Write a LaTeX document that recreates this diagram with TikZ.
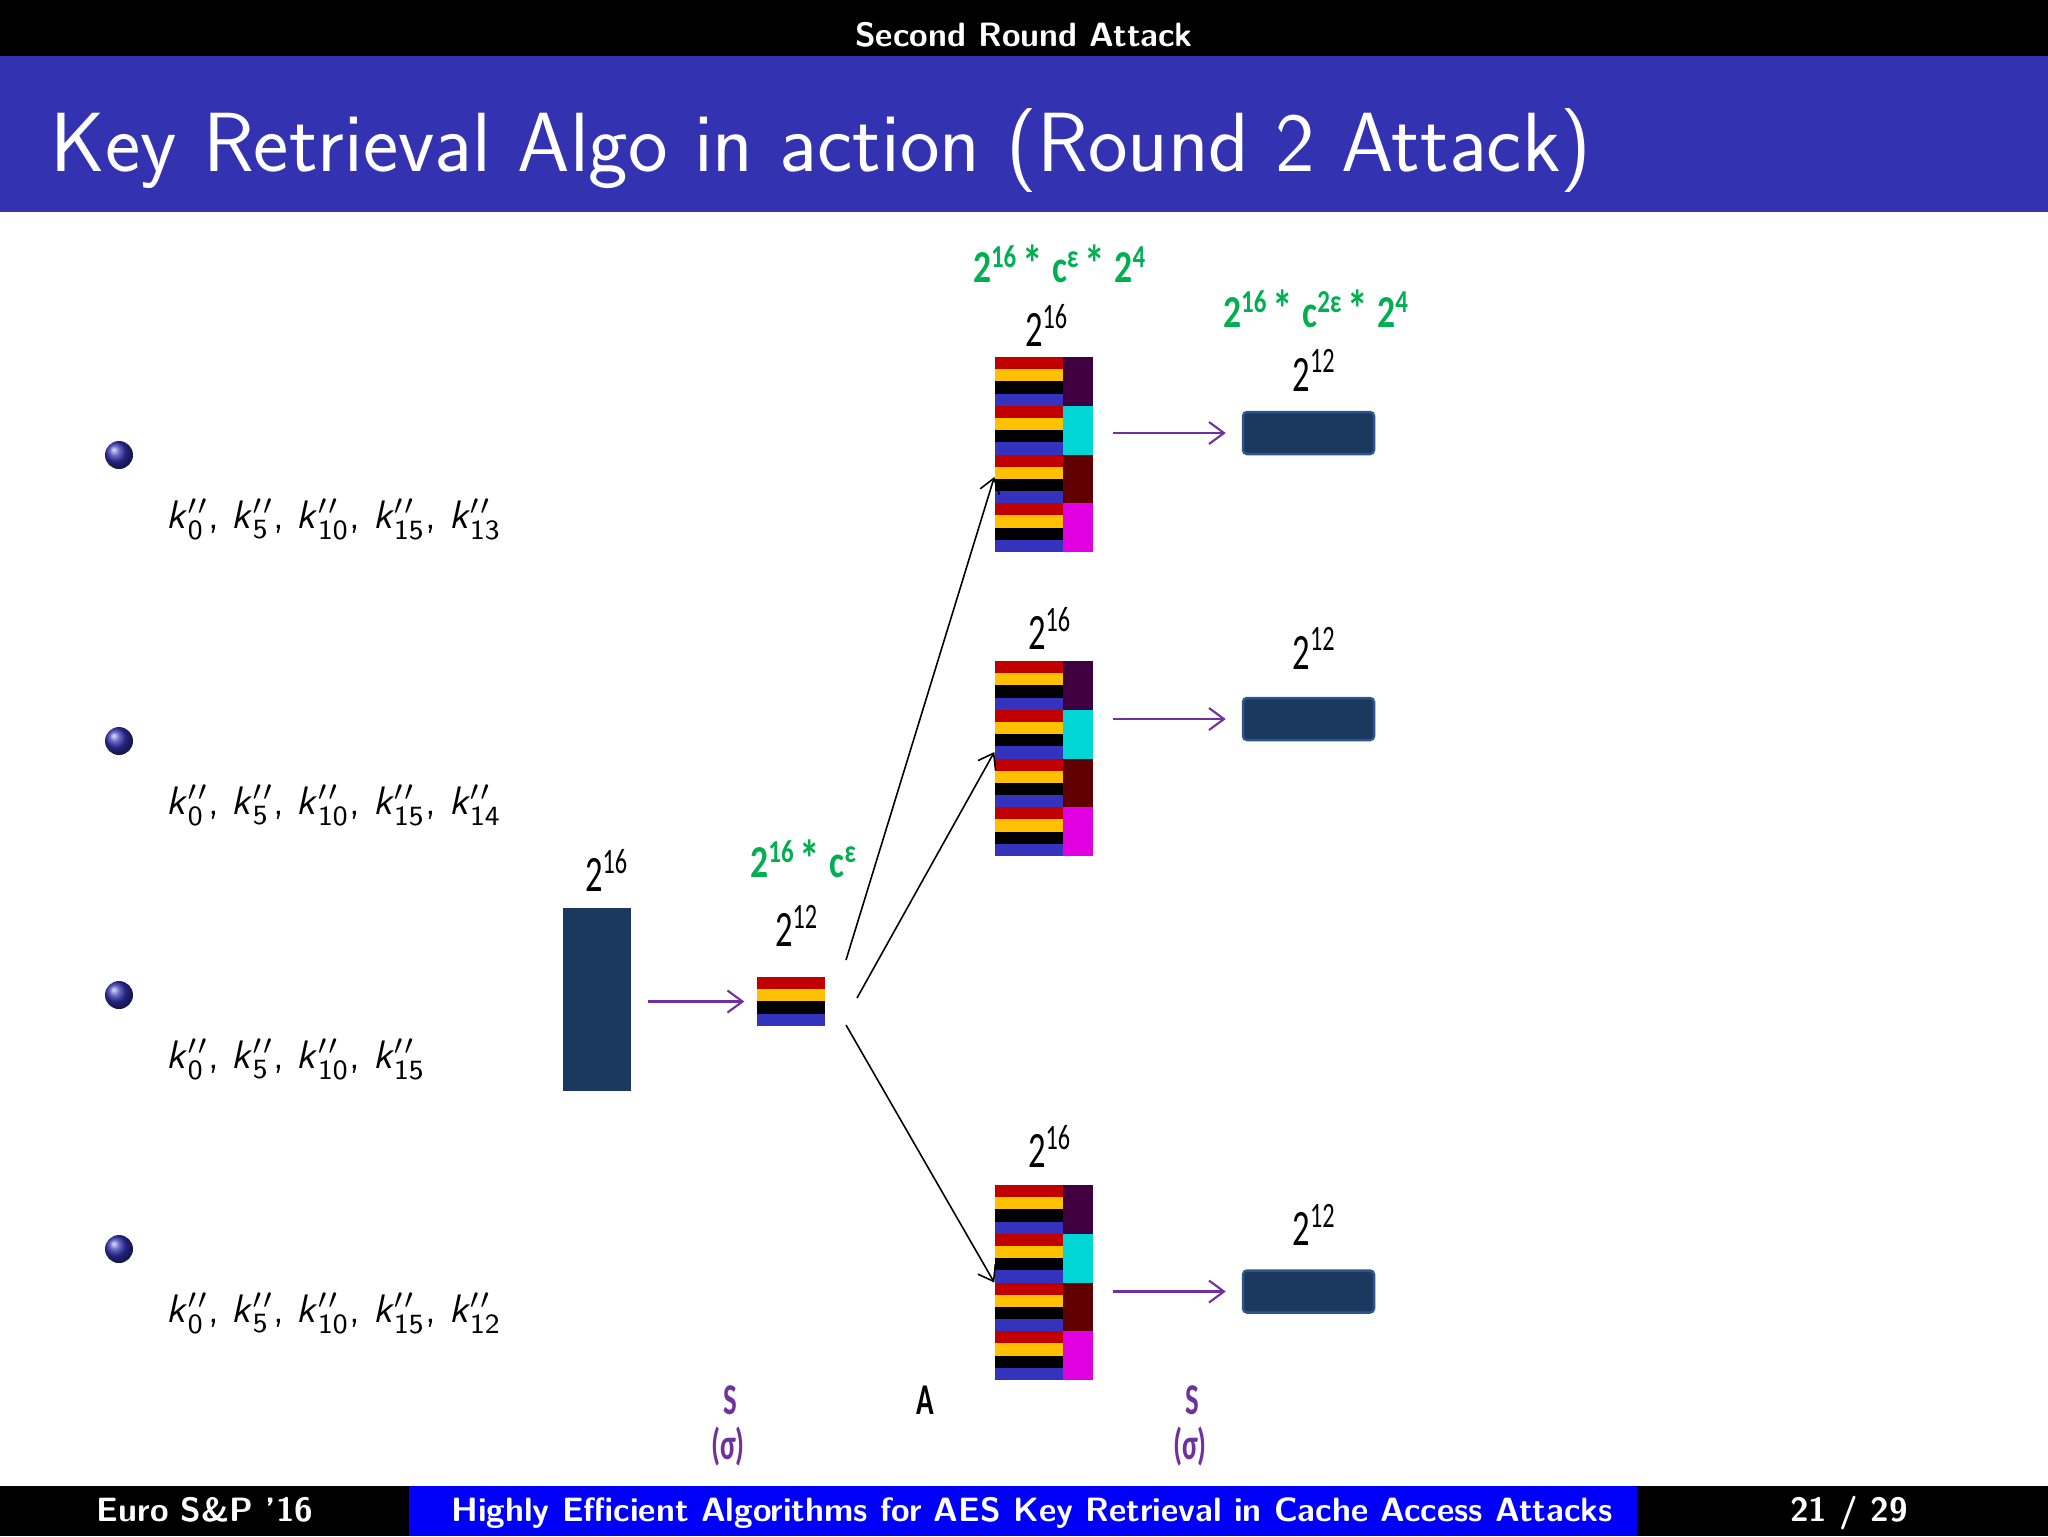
\documentclass[tikz,border=0pt]{standalone}
\usepackage{fontspec}
\usepackage{amsmath}
\newfontfamily\cali[FakeStretch=0.68]{Carlito}
\newfontfamily\calig[FakeStretch=0.78]{Carlito}
\newfontfamily\calio[FakeStretch=0.66]{Carlito}
\usetikzlibrary{arrows.meta,positioning,calc}

\definecolor{titleblue}{RGB}{51,51,178}
\definecolor{footblue}{RGB}{0,0,250}
\definecolor{navy}{RGB}{27,56,94}
\definecolor{navyedge}{RGB}{46,84,140}
\definecolor{sred}{RGB}{192,0,0}
\definecolor{sgold}{RGB}{255,192,0}
\definecolor{sblue}{RGB}{51,51,190}
\definecolor{bplum}{RGB}{64,0,64}
\definecolor{bcyan}{RGB}{0,214,214}
\definecolor{bmaroon}{RGB}{96,0,0}
\definecolor{bmagenta}{RGB}{224,0,224}
\definecolor{costgreen}{RGB}{0,176,80}
\definecolor{mapviolet}{RGB}{112,48,160}

\newcommand\kk[1]{\textit{k}$_{\textsf{#1}}^{\prime\kern0.06em\prime}$}
\newcommand\tms{\kern0.1em{\fontsize{15}{15}\selectfont*}\kern0.2em}

% stripes of a candidate list: #1+1 groups of four
\newcommand\stripecode[1]{%
  \foreach \j in {0,...,#1} {
    \foreach \k/\c in {0/sred,1/sgold,2/black,3/sblue} {
      \pgfmathsetmacro\yy{(4*\j+\k)*1.21875}
      \fill[\c] ([yshift=-\yy mm]path picture bounding box.north west) rectangle ++(6.8mm,-1.22mm);
    }
  }}
\newcommand\blockcode{%
  \foreach \j/\c in {0/bplum,1/bcyan,2/bmaroon,3/bmagenta} {
    \fill[\c] ([xshift=6.8mm,yshift=-\j*4.875mm]path picture bounding box.north west) rectangle ++(3mm,-4.875mm);
  }}

\begin{document}
\begin{tikzpicture}[x=0.1mm, y=-0.1mm,
  bar/.style={fill=navy, inner sep=0pt, minimum width=6.8mm, minimum height=18.3mm},
  slab/.style={fill=navy, draw=navyedge, line width=0.25mm, rounded corners=0.4mm, inner sep=0pt, minimum width=13.1mm, minimum height=4.2mm},
  flag/.style={inner sep=0pt, minimum width=6.8mm, minimum height=4.9mm, path picture={\stripecode{0}}},
  stack/.style={inner sep=0pt, minimum width=9.8mm, minimum height=19.5mm, path picture={\stripecode{3}\blockcode}},
  lbl/.style={inner sep=0pt, font=\cali\fontsize{14.5}{17}\selectfont},
  cost/.style={inner sep=0pt, text=costgreen, font=\calig\bfseries\fontsize{13}{15}\selectfont},
  op/.style={inner sep=0pt, font=\calio\bfseries\fontsize{12.5}{15}\selectfont},
  keys/.style={anchor=base west, inner sep=0pt, font=\sffamily\fontsize{11.3}{14}\selectfont},
  ballet/.style={circle, inner sep=0pt, minimum size=2.8mm, shade, ball color=titleblue},
  fork/.style={-{Straight Barb[length=1.4mm,width=2mm]}, line width=0.45pt},
  map/.style={-{Straight Barb[length=1.5mm,width=2.2mm]}, mapviolet, line width=0.6pt}
]
\useasboundingbox (0,0) rectangle (2048,1536);

% slide frame
\fill[black] (0,0) rectangle (2048,56);
\fill[titleblue] (0,56) rectangle (2048,212);
\fill[black] (0,1486) rectangle (409,1536);
\fill[footblue] (409,1486) rectangle (1637,1536);
\fill[black] (1637,1486) rectangle (2048,1536);

\node[anchor=base, inner sep=0pt, text=white, font=\sffamily\bfseries\fontsize{9.6}{12}\selectfont] (head) at (1024,46) {Second Round Attack};
\node[anchor=base west, inner sep=0pt, text=white, font=\sffamily\fontsize{23.9}{28}\selectfont] (title) at (50,171) {Key Retrieval Algo in action (Round 2 Attack)};

\node[anchor=base, inner sep=0pt, text=white, font=\sffamily\bfseries\fontsize{9.6}{12}\selectfont] (conf) at (205,1521) {Euro S\&P '16};
\node[anchor=base, inner sep=0pt, text=white, font=\sffamily\bfseries\fontsize{9.6}{12}\selectfont] (paper) at (1032,1521) {Highly Efficient Algorithms for AES Key Retrieval in Cache Access Attacks};
\node[anchor=base, inner sep=0pt, text=white, font=\sffamily\bfseries\fontsize{9.6}{12}\selectfont] (page) at (1849,1521) {21 / 29};

% key byte sets
\node[ballet] (b1) at (119,455) {};
\node[ballet] (b2) at (119,741) {};
\node[ballet] (b3) at (119,995) {};
\node[ballet] (b4) at (119,1249) {};
\node[keys] (k1) at (166,528) {\kk{0}, \kk{5}, \kk{10}, \kk{15}, \kk{13}};
\node[keys] (k2) at (166,814) {\kk{0}, \kk{5}, \kk{10}, \kk{15}, \kk{14}};
\node[keys] (k3) at (166,1068) {\kk{0}, \kk{5}, \kk{10}, \kk{15}};
\node[keys] (k4) at (166,1322) {\kk{0}, \kk{5}, \kk{10}, \kk{15}, \kk{12}};

% candidate lists
\node[bar] (big) at (597,999.5) {};
\node[flag] (mid) at (791,1001.5) {};
\node[stack] (col1) at (1044,454.5) {};
\node[stack] (col2) at (1044,758.5) {};
\node[stack] (col3) at (1044,1282.5) {};
\node[slab] (r1) at (1308.5,433) {};
\node[slab] (r2) at (1308.5,719) {};
\node[slab] (r3) at (1308.5,1291.5) {};

% sizes
\node[lbl, above=1.5mm of big, xshift=1mm] (nbig) {2\textsuperscript{16}};
\node[lbl, above=2.9mm of mid, xshift=0.6mm] (nmid) {2\textsuperscript{12}};
\node[cost, above=2.6mm of nmid, xshift=0.7mm] (cmid) {2\textsuperscript{16}\tms c\textsuperscript{ε}};
\node[lbl, above=0.9mm of col1, xshift=0.3mm] (n1) {2\textsuperscript{16}};
\node[lbl, above=1mm of col2, xshift=0.6mm] (n2) {2\textsuperscript{16}};
\node[lbl, above=1.6mm of col3, xshift=0.6mm] (n3) {2\textsuperscript{16}};
\node[cost, above=2mm of n1, xshift=1.3mm] (c1) {2\textsuperscript{16}\tms c\textsuperscript{ε}\tms 2\textsuperscript{4}};
\node[lbl, above=1.9mm of r1, xshift=0.6mm] (m1) {2\textsuperscript{12}};
\node[lbl, above=2.7mm of r2, xshift=0.6mm] (m2) {2\textsuperscript{12}};
\node[lbl, above=2.3mm of r3, xshift=0.6mm] (m3) {2\textsuperscript{12}};
\node[cost, above=2mm of m1, xshift=0.2mm] (cr1) {2\textsuperscript{16}\tms c\textsuperscript{2ε}\tms 2\textsuperscript{4}};

% steps
\node[op, text=mapviolet] (s1) at (730,1400) {S};
\node[op, text=mapviolet] (sig1) at (728,1446) {(σ)};
\node[op] (aop) at (925,1400) {A};
\node[op, text=mapviolet] (s2) at (1192,1400) {S};
\node[op, text=mapviolet] (sig2) at (1190,1446) {(σ)};

% arrows
\coordinate (f1) at (846,960);
\coordinate (f2) at (857,998);
\coordinate (f3) at (846,1025);
\draw[map, shorten <=1.6mm, shorten >=1.2mm] (big.east |- mid.west) -- (mid.west);
\draw[fork] (f1) -- ([yshift=-2.25mm]col1.west);
\draw[fork] (f2) -- ([yshift=0.65mm]col2.west);
\draw[fork] (f3) -- (col3.west);
\draw[map, shorten <=1.9mm, shorten >=1.6mm] (col1.east |- r1.west) -- (r1.west);
\draw[map, shorten <=1.9mm, shorten >=1.6mm] (col2.east |- r2.west) -- (r2.west);
\draw[map, shorten <=1.9mm, shorten >=1.6mm] (col3.east |- r3.west) -- (r3.west);

\end{tikzpicture}
\end{document}
